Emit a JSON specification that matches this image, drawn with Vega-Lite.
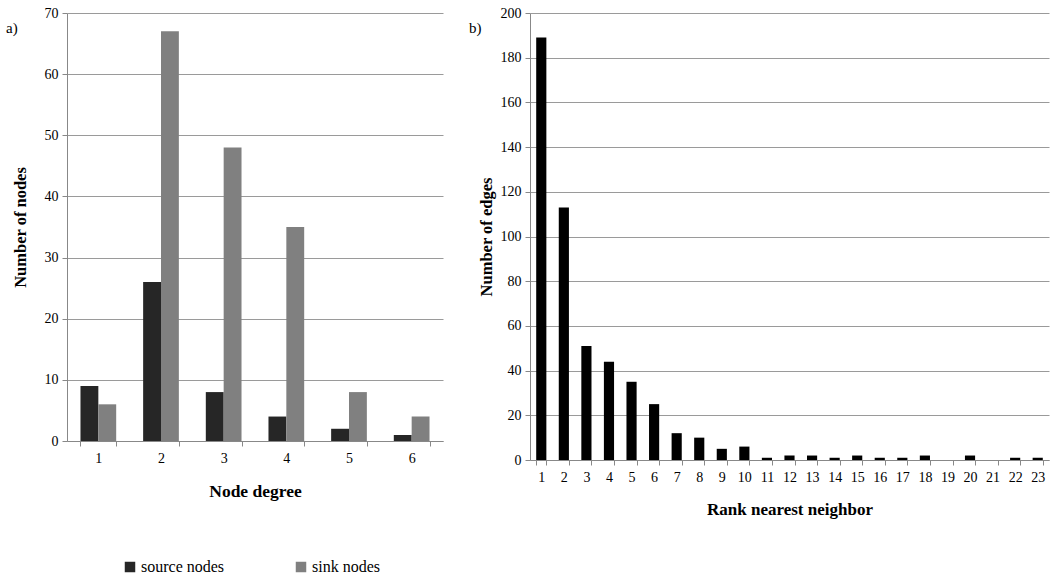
{
  "$schema": "https://vega.github.io/schema/vega-lite/v6.json",
  "background": "white",
  "padding": {"left": 6, "top": 6, "right": 1, "bottom": 0},
  "spacing": 26,
  "config": {
    "font": "Liberation Serif",
    "view": {"stroke": null},
    "axis": {
      "labelFont": "Liberation Serif", "labelFontSize": 14, "labelColor": "#000",
      "titleFont": "Liberation Serif", "titleFontSize": 16.5, "titleFontWeight": "bold", "titleColor": "#000",
      "domainColor": "#888", "tickColor": "#888", "gridColor": "#9a9a9a", "tickSize": 5
    },
    "legend": {"labelFont": "Liberation Serif", "labelFontSize": 16, "labelColor": "#000"},
    "title": {"font": "Liberation Serif", "fontSize": 15, "fontWeight": "normal", "color": "#000"}
  },
  "hconcat": [
    {
      "width": 376,
      "height": 428,
      "title": {"text": "a)", "anchor": "start", "frame": "group", "dx": -61, "dy": 30, "offset": 0},
      "data": {"values": [
        {"degree": 1, "series": "source nodes", "count": 9},
        {"degree": 1, "series": "sink nodes", "count": 6},
        {"degree": 2, "series": "source nodes", "count": 26},
        {"degree": 2, "series": "sink nodes", "count": 67},
        {"degree": 3, "series": "source nodes", "count": 8},
        {"degree": 3, "series": "sink nodes", "count": 48},
        {"degree": 4, "series": "source nodes", "count": 4},
        {"degree": 4, "series": "sink nodes", "count": 35},
        {"degree": 5, "series": "source nodes", "count": 2},
        {"degree": 5, "series": "sink nodes", "count": 8},
        {"degree": 6, "series": "source nodes", "count": 1},
        {"degree": 6, "series": "sink nodes", "count": 4}
      ]},
      "mark": {"type": "bar"},
      "encoding": {
        "x": {"field": "degree", "type": "ordinal",
              "scale": {"paddingInner": 0.43, "paddingOuter": 0.215},
              "axis": {"title": "Node degree", "titleFontSize": 17.5, "labelAngle": 0, "tickBand": "extent", "grid": false, "labelPadding": 5, "titlePadding": 17}},
        "xOffset": {"field": "series", "type": "nominal", "sort": ["source nodes", "sink nodes"]},
        "y": {"field": "count", "type": "quantitative",
              "scale": {"domain": [0, 70], "nice": false},
              "axis": {"title": "Number of nodes", "values": [0, 10, 20, 30, 40, 50, 60, 70], "labelPadding": 4, "titlePadding": 16}},
        "color": {"field": "series", "type": "nominal",
                  "scale": {"domain": ["source nodes", "sink nodes"], "range": ["#262626", "#808080"]},
                  "legend": {"orient": "none", "legendX": 55, "legendY": 546, "direction": "horizontal", "title": null, "symbolType": "square", "symbolSize": 110, "symbolStrokeWidth": 0, "columnPadding": 68, "labelOffset": 3}}
      }
    },
    {
      "width": 519,
      "height": 447,
      "title": {"text": "b)", "anchor": "start", "frame": "group", "dx": -61, "dy": 30, "offset": 0},
      "data": {"values": [
        {"rank": 1, "edges": 189}, {"rank": 2, "edges": 113}, {"rank": 3, "edges": 51},
        {"rank": 4, "edges": 44}, {"rank": 5, "edges": 35}, {"rank": 6, "edges": 25},
        {"rank": 7, "edges": 12}, {"rank": 8, "edges": 10}, {"rank": 9, "edges": 5},
        {"rank": 10, "edges": 6}, {"rank": 11, "edges": 1}, {"rank": 12, "edges": 2},
        {"rank": 13, "edges": 2}, {"rank": 14, "edges": 1}, {"rank": 15, "edges": 2},
        {"rank": 16, "edges": 1}, {"rank": 17, "edges": 1}, {"rank": 18, "edges": 2},
        {"rank": 19, "edges": 0}, {"rank": 20, "edges": 2}, {"rank": 21, "edges": 0},
        {"rank": 22, "edges": 1}, {"rank": 23, "edges": 1}
      ]},
      "mark": {"type": "bar", "color": "#000"},
      "encoding": {
        "x": {"field": "rank", "type": "ordinal",
              "scale": {"paddingInner": 0.55, "paddingOuter": 0.275},
              "axis": {"title": "Rank nearest neighbor", "titleFontSize": 17, "labelAngle": 0, "tickBand": "extent", "grid": false, "labelPadding": 5, "titlePadding": 17}},
        "y": {"field": "edges", "type": "quantitative",
              "scale": {"domain": [0, 200], "nice": false},
              "axis": {"title": "Number of edges", "values": [0, 20, 40, 60, 80, 100, 120, 140, 160, 180, 200], "labelPadding": 4, "titlePadding": 6}}
      }
    }
  ],
  "resolve": {"scale": {"color": "independent", "x": "independent", "y": "independent"}, "legend": {"color": "independent"}}
}
